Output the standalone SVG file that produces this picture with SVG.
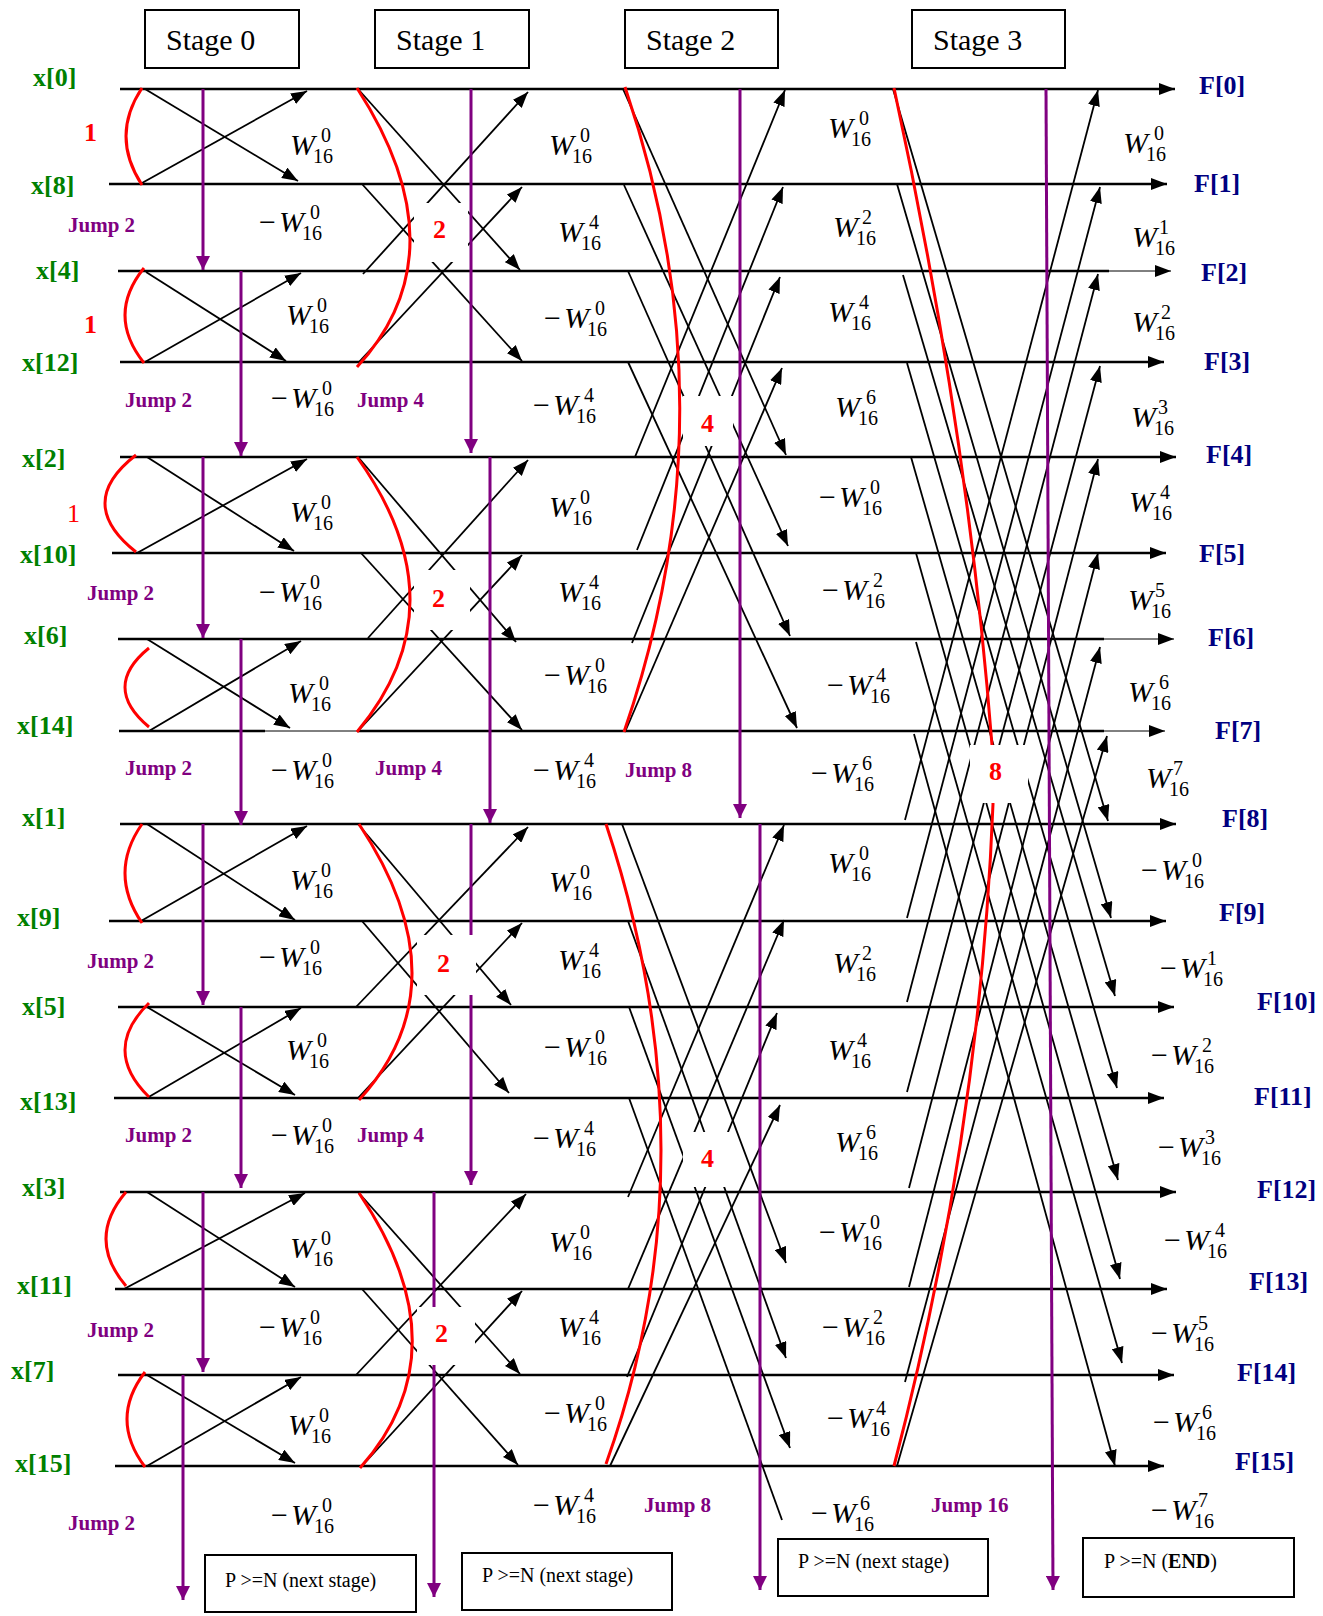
<svg xmlns="http://www.w3.org/2000/svg" width="1323" height="1616" viewBox="0 0 1323 1616">
<defs>
<marker id="ah" viewBox="0 0 16 12" refX="16" refY="6" markerWidth="16" markerHeight="12" markerUnits="userSpaceOnUse" orient="auto"><path d="M0,0 L16,6 L0,12 z" fill="#000"/></marker>
<marker id="ap" viewBox="0 0 14 14" refX="14" refY="7" markerWidth="14" markerHeight="14" markerUnits="userSpaceOnUse" orient="auto"><path d="M0,0 L14,7 L0,14 z" fill="#800080"/></marker>
<style>
.row{stroke:#000;stroke-width:2.5;fill:none}
.rowend{stroke:#000;stroke-width:2.5;fill:none;marker-end:url(#ah)}
.thin{stroke:#000;stroke-width:1;fill:none;marker-end:url(#ah)}
.thinn{stroke:#000;stroke-width:1;fill:none}
.bf{stroke:#000;stroke-width:1.8;fill:none;marker-end:url(#ah)}
.bn{stroke:#000;stroke-width:1.8;fill:none}
.red{stroke:#f00;stroke-width:3;fill:none}
.pur{stroke:#800080;stroke-width:3;fill:none;marker-end:url(#ap)}
.frame{fill:#fff;stroke:#000;stroke-width:2}
.mask{fill:#fff;stroke:none}
text{font-family:"Liberation Serif","Times New Roman",serif}
.xl{font-family:"Liberation Serif",serif;font-weight:bold;font-size:26px;fill:#008000}
.fl{font-family:"Liberation Serif",serif;font-weight:bold;font-size:26px;fill:#000080}
.jl{font-family:"Liberation Serif",serif;font-weight:bold;font-size:21px;fill:#800080}
.rl{font-family:"Liberation Serif",serif;font-weight:bold;font-size:26px;fill:#f00}
.rn{font-family:"Liberation Serif",serif;font-size:26px;fill:#f00}
.stg{font-family:"Liberation Serif",serif;font-size:30px;fill:#000}
.pn{font-family:"Liberation Serif",serif;font-size:20px;fill:#000}
.w text{font-family:"Liberation Serif",serif;font-style:italic;font-size:30px;fill:#000}
.n{font-style:normal;font-size:20px}
.u{font-style:normal}
</style>
</defs>
<rect width="1323" height="1616" fill="#fff"/>

<!-- stage headers -->
<g id="stage0"><rect class="frame" x="145" y="10" width="154" height="58"/><text class="stg" x="166" y="50">Stage 0</text></g>
<g id="stage1"><rect class="frame" x="375" y="10" width="154" height="58"/><text class="stg" x="396" y="50">Stage 1</text></g>
<g id="stage2"><rect class="frame" x="625" y="10" width="153" height="58"/><text class="stg" x="646" y="50">Stage 2</text></g>
<g id="stage3"><rect class="frame" x="912" y="10" width="153" height="58"/><text class="stg" x="933" y="50">Stage 3</text></g>

<!-- connectors -->
<g id="connectors">
 <!-- signal rows -->
 <g id="rows">
  <path class="rowend" d="M120 89 H1175"/>
  <path class="rowend" d="M109 184 H1167"/>
  <path class="row" d="M118 271 H1109"/><path class="thin" d="M1109 271 H1171"/>
  <path class="rowend" d="M120 362 H1164"/>
  <path class="rowend" d="M120 457 H1176"/>
  <path class="rowend" d="M112 553 H1166"/>
  <path class="row" d="M118 639 H1104"/><path class="thin" d="M1104 639 H1174"/>
  <path class="row" d="M119 731 H265"/><path class="thinn" d="M265 731 H357"/><path class="row" d="M357 731 H1104"/><path class="thin" d="M1104 731 H1165"/>
  <path class="rowend" d="M120 824 H1176"/>
  <path class="rowend" d="M109 921 H1166"/>
  <path class="rowend" d="M118 1007 H1174"/>
  <path class="rowend" d="M114 1098 H1164"/>
  <path class="rowend" d="M120 1192 H1176"/>
  <path class="rowend" d="M115 1289 H1167"/>
  <path class="rowend" d="M118 1375 H1174"/>
  <path class="rowend" d="M115 1466 H1164"/>
 </g>

 <!-- stage 0 butterflies -->
 <g id="bf0">
  <path class="bf" d="M145 89 L298 181"/><path class="bf" d="M142 183 L307 91"/>
  <path class="bf" d="M146 272 L286 361"/><path class="bf" d="M145 362 L301 273"/>
  <path class="bf" d="M147 457 L294 551"/><path class="bf" d="M137 553 L307 459"/>
  <path class="bf" d="M147 639 L290 728"/><path class="bf" d="M149 731 L301 641"/>
  <path class="bf" d="M147 824 L295 920"/><path class="bf" d="M141 921 L307 826"/>
  <path class="bf" d="M147 1007 L295 1095"/><path class="bf" d="M147 1098 L301 1008"/>
  <path class="bf" d="M147 1192 L295 1287"/><path class="bf" d="M124 1289 L305 1193"/>
  <path class="bf" d="M147 1375 L295 1463"/><path class="bf" d="M147 1466 L301 1377"/>
 </g>

 <!-- stage 1 butterflies -->
 <g id="bf1">
  <path class="bf" d="M358 89 L520 270"/><path class="bf" d="M363 274 L528 92"/>
  <path class="bf" d="M362 184 L522 361"/><path class="bf" d="M358 363 L522 187"/>
  <path class="bf" d="M358 457 L516 642"/><path class="bf" d="M368 638 L528 460"/>
  <path class="bf" d="M361 553 L522 730"/><path class="bf" d="M358 731 L522 555"/>
  <path class="bf" d="M358 824 L511 1005"/><path class="bf" d="M356 1007 L528 827"/>
  <path class="bf" d="M362 921 L509 1093"/><path class="bf" d="M358 1098 L522 923"/>
  <path class="bf" d="M358 1192 L520 1374"/><path class="bf" d="M356 1375 L526 1194"/>
  <path class="bf" d="M362 1289 L518 1465"/><path class="bf" d="M362 1466 L522 1291"/>
 </g>

 <!-- stage 2 butterflies -->
 <g id="bf2">
  <path class="bf" d="M623 89 L786 455"/><path class="bf" d="M624 185 L788 546"/>
  <path class="bf" d="M628 271 L790 636"/><path class="bf" d="M628 362 L797 728"/>
  <path class="bf" d="M635 457 L785 90"/><path class="bf" d="M637 550 L783 187"/>
  <path class="bf" d="M632 643 L780 277"/><path class="bf" d="M625 732 L782 368"/>
  <path class="bf" d="M622 824 L786 1263"/><path class="bf" d="M628 921 L786 1358"/>
  <path class="bf" d="M629 1007 L790 1448"/><path class="bn" d="M629 1098 L782 1520"/>
  <path class="bf" d="M628 1197 L784 825"/><path class="bf" d="M628 1289 L784 920"/>
  <path class="bf" d="M627 1377 L777 1013"/><path class="bf" d="M610 1466 L780 1105"/>
 </g>

 <!-- stage 3 butterflies -->
 <g id="bf3">
  <path class="bf" d="M893 89 L1108 821"/><path class="bf" d="M897 184 L1111 918"/>
  <path class="bf" d="M903 275 L1115 996"/><path class="bf" d="M907 363 L1117 1088"/>
  <path class="bf" d="M911 457 L1118 1180"/><path class="bf" d="M916 553 L1120 1279"/>
  <path class="bf" d="M916 642 L1122 1363"/><path class="bf" d="M914 734 L1115 1466"/>
  <path class="bf" d="M905 820 L1098 90"/><path class="bf" d="M907 918 L1100 187"/>
  <path class="bf" d="M907 1002 L1098 274"/><path class="bf" d="M907 1092 L1100 366"/>
  <path class="bf" d="M909 1188 L1098 459"/><path class="bf" d="M909 1287 L1098 553"/>
  <path class="bf" d="M905 1382 L1100 647"/><path class="bf" d="M897 1466 L1107 736"/>
 </g>

 <!-- group brackets -->
 <g id="brackets">
  <path class="red" d="M142 88 Q110 136 142 185"/>
  <path class="red" d="M144 268 Q106 315 144 363"/>
  <path class="red" d="M136 455 Q74 503 136 552"/>
  <path class="red" d="M149 648 Q101 687 149 727"/>
  <path class="red" d="M142 824 Q108 873 142 923"/>
  <path class="red" d="M149 1003 Q101 1050 149 1097"/>
  <path class="red" d="M126 1192 Q86 1239 126 1286"/>
  <path class="red" d="M145 1372 Q109 1419 145 1467"/>
  <path class="red" d="M357 88 Q463 252 357 367"/>
  <path class="red" d="M357 457 Q463 605 357 732"/>
  <path class="red" d="M359 824 Q465 984 359 1100"/>
  <path class="red" d="M359 1193 Q465 1350 360 1468"/>
  <path class="red" d="M625 87 Q735 410 624 732"/>
  <path class="red" d="M606 824 Q716 1156 606 1464"/>
  <path class="red" d="M894 88 Q967 424 992 745 L993 804 Q980 1135 894 1466"/>
 </g>

 <!-- pointer jumps -->
 <g id="jumps">
  <path class="pur" d="M203 89 V270"/>
  <path class="pur" d="M241 271 V456"/>
  <path class="pur" d="M203 457 V638"/>
  <path class="pur" d="M241 639 V825"/>
  <path class="pur" d="M203 824 V1005"/>
  <path class="pur" d="M241 1007 V1188"/>
  <path class="pur" d="M203 1192 V1372"/>
  <path class="pur" d="M183 1375 V1600"/>
  <path class="pur" d="M471 89 V453"/>
  <path class="pur" d="M490 457 V823"/>
  <path class="pur" d="M471 824 V1185"/>
  <path class="pur" d="M434 1192 V1597"/>
  <path class="pur" d="M740 89 V818"/>
  <path class="pur" d="M760 824 V1590"/>
  <path class="pur" d="M1046 89 L1053 1590"/>
 </g>
</g>

<!-- clear areas behind span labels -->
<g id="label-clear">
 <rect class="mask" x="414" y="203" width="54" height="59"/>
 <rect class="mask" x="414" y="570" width="56" height="60"/>
 <rect class="mask" x="417" y="935" width="59" height="60"/>
 <rect class="mask" x="417" y="1307" width="58" height="58"/>
 <rect class="mask" x="683" y="396" width="50" height="50"/>
 <rect class="mask" x="683" y="1132" width="50" height="55"/>
 <rect class="mask" x="970" y="745" width="58" height="58"/>
</g>

<!-- span labels -->
<g id="spans">
 <text class="rl" x="84" y="141">1</text>
 <text class="rl" x="84" y="333">1</text>
 <text class="rn" x="67" y="522">1</text>
 <text class="rl" x="433" y="238">2</text>
 <text class="rl" x="432" y="607">2</text>
 <text class="rl" x="437" y="972">2</text>
 <text class="rl" x="435" y="1342">2</text>
 <text class="rl" x="701" y="432">4</text>
 <text class="rl" x="701" y="1167">4</text>
 <text class="rl" x="989" y="780">8</text>
</g>

<!-- jump labels -->
<g id="jump-labels">
 <text class="jl" x="68" y="232">Jump 2</text>
 <text class="jl" x="125" y="407">Jump 2</text>
 <text class="jl" x="87" y="600">Jump 2</text>
 <text class="jl" x="125" y="775">Jump 2</text>
 <text class="jl" x="87" y="968">Jump 2</text>
 <text class="jl" x="125" y="1142">Jump 2</text>
 <text class="jl" x="87" y="1337">Jump 2</text>
 <text class="jl" x="68" y="1530">Jump 2</text>
 <text class="jl" x="357" y="407">Jump 4</text>
 <text class="jl" x="375" y="775">Jump 4</text>
 <text class="jl" x="357" y="1142">Jump 4</text>
 <text class="jl" x="625" y="777">Jump 8</text>
 <text class="jl" x="644" y="1512">Jump 8</text>
 <text class="jl" x="931" y="1512">Jump 16</text>
</g>

<!-- inputs -->
<g id="inputs">
 <text id="in0" class="xl" x="33" y="86">x[0]</text>
 <text id="in8" class="xl" x="31" y="194">x[8]</text>
 <text id="in4" class="xl" x="36" y="279">x[4]</text>
 <text id="in12" class="xl" x="22" y="371">x[12]</text>
 <text id="in2" class="xl" x="22" y="467">x[2]</text>
 <text id="in10" class="xl" x="20" y="563">x[10]</text>
 <text id="in6" class="xl" x="24" y="644">x[6]</text>
 <text id="in14" class="xl" x="17" y="734">x[14]</text>
 <text id="in1" class="xl" x="22" y="826">x[1]</text>
 <text id="in9" class="xl" x="17" y="926">x[9]</text>
 <text id="in5" class="xl" x="22" y="1015">x[5]</text>
 <text id="in13" class="xl" x="20" y="1110">x[13]</text>
 <text id="in3" class="xl" x="22" y="1196">x[3]</text>
 <text id="in11" class="xl" x="17" y="1294">x[11]</text>
 <text id="in7" class="xl" x="11" y="1379">x[7]</text>
 <text id="in15" class="xl" x="15" y="1472">x[15]</text>
</g>

<!-- outputs -->
<g id="outputs">
 <text id="out0" class="fl" x="1199" y="94">F[0]</text>
 <text id="out1" class="fl" x="1194" y="192">F[1]</text>
 <text id="out2" class="fl" x="1201" y="281">F[2]</text>
 <text id="out3" class="fl" x="1204" y="370">F[3]</text>
 <text id="out4" class="fl" x="1206" y="463">F[4]</text>
 <text id="out5" class="fl" x="1199" y="562">F[5]</text>
 <text id="out6" class="fl" x="1208" y="646">F[6]</text>
 <text id="out7" class="fl" x="1215" y="739">F[7]</text>
 <text id="out8" class="fl" x="1222" y="827">F[8]</text>
 <text id="out9" class="fl" x="1219" y="921">F[9]</text>
 <text id="out10" class="fl" x="1257" y="1010">F[10]</text>
 <text id="out11" class="fl" x="1254" y="1105">F[11]</text>
 <text id="out12" class="fl" x="1257" y="1198">F[12]</text>
 <text id="out13" class="fl" x="1249" y="1290">F[13]</text>
 <text id="out14" class="fl" x="1237" y="1381">F[14]</text>
 <text id="out15" class="fl" x="1235" y="1470">F[15]</text>
</g>

<!-- twiddle factors -->
<g id="twiddles" class="w">
 <!-- stage 0 -->
 <text x="290" y="155">W<tspan class="n" dx="-2" dy="8">16</tspan><tspan class="n" dx="-12" dy="-21">0</tspan></text>
 <text x="259" y="232"><tspan class="u">−</tspan><tspan dx="3">W</tspan><tspan class="n" dx="-2" dy="8">16</tspan><tspan class="n" dx="-12" dy="-21">0</tspan></text>
 <text x="286" y="325">W<tspan class="n" dx="-2" dy="8">16</tspan><tspan class="n" dx="-12" dy="-21">0</tspan></text>
 <text x="271" y="408"><tspan class="u">−</tspan><tspan dx="3">W</tspan><tspan class="n" dx="-2" dy="8">16</tspan><tspan class="n" dx="-12" dy="-21">0</tspan></text>
 <text x="290" y="522">W<tspan class="n" dx="-2" dy="8">16</tspan><tspan class="n" dx="-12" dy="-21">0</tspan></text>
 <text x="259" y="602"><tspan class="u">−</tspan><tspan dx="3">W</tspan><tspan class="n" dx="-2" dy="8">16</tspan><tspan class="n" dx="-12" dy="-21">0</tspan></text>
 <text x="288" y="703">W<tspan class="n" dx="-2" dy="8">16</tspan><tspan class="n" dx="-12" dy="-21">0</tspan></text>
 <text x="271" y="780"><tspan class="u">−</tspan><tspan dx="3">W</tspan><tspan class="n" dx="-2" dy="8">16</tspan><tspan class="n" dx="-12" dy="-21">0</tspan></text>
 <text x="290" y="890">W<tspan class="n" dx="-2" dy="8">16</tspan><tspan class="n" dx="-12" dy="-21">0</tspan></text>
 <text x="259" y="967"><tspan class="u">−</tspan><tspan dx="3">W</tspan><tspan class="n" dx="-2" dy="8">16</tspan><tspan class="n" dx="-12" dy="-21">0</tspan></text>
 <text x="286" y="1060">W<tspan class="n" dx="-2" dy="8">16</tspan><tspan class="n" dx="-12" dy="-21">0</tspan></text>
 <text x="271" y="1145"><tspan class="u">−</tspan><tspan dx="3">W</tspan><tspan class="n" dx="-2" dy="8">16</tspan><tspan class="n" dx="-12" dy="-21">0</tspan></text>
 <text x="290" y="1258">W<tspan class="n" dx="-2" dy="8">16</tspan><tspan class="n" dx="-12" dy="-21">0</tspan></text>
 <text x="259" y="1337"><tspan class="u">−</tspan><tspan dx="3">W</tspan><tspan class="n" dx="-2" dy="8">16</tspan><tspan class="n" dx="-12" dy="-21">0</tspan></text>
 <text x="288" y="1435">W<tspan class="n" dx="-2" dy="8">16</tspan><tspan class="n" dx="-12" dy="-21">0</tspan></text>
 <text x="271" y="1525"><tspan class="u">−</tspan><tspan dx="3">W</tspan><tspan class="n" dx="-2" dy="8">16</tspan><tspan class="n" dx="-12" dy="-21">0</tspan></text>
 <!-- stage 1 -->
 <text x="549" y="155">W<tspan class="n" dx="-2" dy="8">16</tspan><tspan class="n" dx="-12" dy="-21">0</tspan></text>
 <text x="558" y="242">W<tspan class="n" dx="-2" dy="8">16</tspan><tspan class="n" dx="-12" dy="-21">4</tspan></text>
 <text x="544" y="328"><tspan class="u">−</tspan><tspan dx="3">W</tspan><tspan class="n" dx="-2" dy="8">16</tspan><tspan class="n" dx="-12" dy="-21">0</tspan></text>
 <text x="533" y="415"><tspan class="u">−</tspan><tspan dx="3">W</tspan><tspan class="n" dx="-2" dy="8">16</tspan><tspan class="n" dx="-12" dy="-21">4</tspan></text>
 <text x="549" y="517">W<tspan class="n" dx="-2" dy="8">16</tspan><tspan class="n" dx="-12" dy="-21">0</tspan></text>
 <text x="558" y="602">W<tspan class="n" dx="-2" dy="8">16</tspan><tspan class="n" dx="-12" dy="-21">4</tspan></text>
 <text x="544" y="685"><tspan class="u">−</tspan><tspan dx="3">W</tspan><tspan class="n" dx="-2" dy="8">16</tspan><tspan class="n" dx="-12" dy="-21">0</tspan></text>
 <text x="533" y="780"><tspan class="u">−</tspan><tspan dx="3">W</tspan><tspan class="n" dx="-2" dy="8">16</tspan><tspan class="n" dx="-12" dy="-21">4</tspan></text>
 <text x="549" y="892">W<tspan class="n" dx="-2" dy="8">16</tspan><tspan class="n" dx="-12" dy="-21">0</tspan></text>
 <text x="558" y="970">W<tspan class="n" dx="-2" dy="8">16</tspan><tspan class="n" dx="-12" dy="-21">4</tspan></text>
 <text x="544" y="1057"><tspan class="u">−</tspan><tspan dx="3">W</tspan><tspan class="n" dx="-2" dy="8">16</tspan><tspan class="n" dx="-12" dy="-21">0</tspan></text>
 <text x="533" y="1148"><tspan class="u">−</tspan><tspan dx="3">W</tspan><tspan class="n" dx="-2" dy="8">16</tspan><tspan class="n" dx="-12" dy="-21">4</tspan></text>
 <text x="549" y="1252">W<tspan class="n" dx="-2" dy="8">16</tspan><tspan class="n" dx="-12" dy="-21">0</tspan></text>
 <text x="558" y="1337">W<tspan class="n" dx="-2" dy="8">16</tspan><tspan class="n" dx="-12" dy="-21">4</tspan></text>
 <text x="544" y="1423"><tspan class="u">−</tspan><tspan dx="3">W</tspan><tspan class="n" dx="-2" dy="8">16</tspan><tspan class="n" dx="-12" dy="-21">0</tspan></text>
 <text x="533" y="1515"><tspan class="u">−</tspan><tspan dx="3">W</tspan><tspan class="n" dx="-2" dy="8">16</tspan><tspan class="n" dx="-12" dy="-21">4</tspan></text>
 <!-- stage 2 -->
 <text x="828" y="138">W<tspan class="n" dx="-2" dy="8">16</tspan><tspan class="n" dx="-12" dy="-21">0</tspan></text>
 <text x="833" y="237">W<tspan class="n" dx="-2" dy="8">16</tspan><tspan class="n" dx="-14" dy="-21">2</tspan></text>
 <text x="828" y="322">W<tspan class="n" dx="-2" dy="8">16</tspan><tspan class="n" dx="-12" dy="-21">4</tspan></text>
 <text x="835" y="417">W<tspan class="n" dx="-2" dy="8">16</tspan><tspan class="n" dx="-12" dy="-21">6</tspan></text>
 <text x="819" y="507"><tspan class="u">−</tspan><tspan dx="3">W</tspan><tspan class="n" dx="-2" dy="8">16</tspan><tspan class="n" dx="-12" dy="-21">0</tspan></text>
 <text x="822" y="600"><tspan class="u">−</tspan><tspan dx="3">W</tspan><tspan class="n" dx="-2" dy="8">16</tspan><tspan class="n" dx="-12" dy="-21">2</tspan></text>
 <text x="827" y="695"><tspan class="u">−</tspan><tspan dx="3">W</tspan><tspan class="n" dx="-2" dy="8">16</tspan><tspan class="n" dx="-14" dy="-21">4</tspan></text>
 <text x="811" y="783"><tspan class="u">−</tspan><tspan dx="3">W</tspan><tspan class="n" dx="-2" dy="8">16</tspan><tspan class="n" dx="-12" dy="-21">6</tspan></text>
 <text x="828" y="873">W<tspan class="n" dx="-2" dy="8">16</tspan><tspan class="n" dx="-12" dy="-21">0</tspan></text>
 <text x="833" y="973">W<tspan class="n" dx="-2" dy="8">16</tspan><tspan class="n" dx="-14" dy="-21">2</tspan></text>
 <text x="828" y="1060">W<tspan class="n" dx="-2" dy="8">16</tspan><tspan class="n" dx="-14" dy="-21">4</tspan></text>
 <text x="835" y="1152">W<tspan class="n" dx="-2" dy="8">16</tspan><tspan class="n" dx="-12" dy="-21">6</tspan></text>
 <text x="819" y="1242"><tspan class="u">−</tspan><tspan dx="3">W</tspan><tspan class="n" dx="-2" dy="8">16</tspan><tspan class="n" dx="-12" dy="-21">0</tspan></text>
 <text x="822" y="1337"><tspan class="u">−</tspan><tspan dx="3">W</tspan><tspan class="n" dx="-2" dy="8">16</tspan><tspan class="n" dx="-12" dy="-21">2</tspan></text>
 <text x="827" y="1428"><tspan class="u">−</tspan><tspan dx="3">W</tspan><tspan class="n" dx="-2" dy="8">16</tspan><tspan class="n" dx="-14" dy="-21">4</tspan></text>
 <text x="811" y="1523"><tspan class="u">−</tspan><tspan dx="3">W</tspan><tspan class="n" dx="-2" dy="8">16</tspan><tspan class="n" dx="-14" dy="-21">6</tspan></text>
 <!-- stage 3 -->
 <text x="1123" y="153">W<tspan class="n" dx="-2" dy="8">16</tspan><tspan class="n" dx="-12" dy="-21">0</tspan></text>
 <text x="1132" y="247">W<tspan class="n" dx="-2" dy="8">16</tspan><tspan class="n" dx="-16" dy="-21">1</tspan></text>
 <text x="1132" y="332">W<tspan class="n" dx="-2" dy="8">16</tspan><tspan class="n" dx="-14" dy="-21">2</tspan></text>
 <text x="1131" y="427">W<tspan class="n" dx="-2" dy="8">16</tspan><tspan class="n" dx="-16" dy="-21">3</tspan></text>
 <text x="1129" y="512">W<tspan class="n" dx="-2" dy="8">16</tspan><tspan class="n" dx="-12" dy="-21">4</tspan></text>
 <text x="1128" y="610">W<tspan class="n" dx="-2" dy="8">16</tspan><tspan class="n" dx="-16" dy="-21">5</tspan></text>
 <text x="1128" y="702">W<tspan class="n" dx="-2" dy="8">16</tspan><tspan class="n" dx="-12" dy="-21">6</tspan></text>
 <text x="1146" y="788">W<tspan class="n" dx="-2" dy="8">16</tspan><tspan class="n" dx="-16" dy="-21">7</tspan></text>
 <text x="1141" y="880"><tspan class="u">−</tspan><tspan dx="3">W</tspan><tspan class="n" dx="-2" dy="8">16</tspan><tspan class="n" dx="-12" dy="-21">0</tspan></text>
 <text x="1160" y="978"><tspan class="u">−</tspan><tspan dx="3">W</tspan><tspan class="n" dx="-2" dy="8">16</tspan><tspan class="n" dx="-16" dy="-21">1</tspan></text>
 <text x="1151" y="1065"><tspan class="u">−</tspan><tspan dx="3">W</tspan><tspan class="n" dx="-2" dy="8">16</tspan><tspan class="n" dx="-12" dy="-21">2</tspan></text>
 <text x="1158" y="1157"><tspan class="u">−</tspan><tspan dx="3">W</tspan><tspan class="n" dx="-2" dy="8">16</tspan><tspan class="n" dx="-16" dy="-21">3</tspan></text>
 <text x="1164" y="1250"><tspan class="u">−</tspan><tspan dx="3">W</tspan><tspan class="n" dx="-2" dy="8">16</tspan><tspan class="n" dx="-12" dy="-21">4</tspan></text>
 <text x="1151" y="1343"><tspan class="u">−</tspan><tspan dx="3">W</tspan><tspan class="n" dx="-2" dy="8">16</tspan><tspan class="n" dx="-16" dy="-21">5</tspan></text>
 <text x="1153" y="1432"><tspan class="u">−</tspan><tspan dx="3">W</tspan><tspan class="n" dx="-2" dy="8">16</tspan><tspan class="n" dx="-14" dy="-21">6</tspan></text>
 <text x="1151" y="1520"><tspan class="u">−</tspan><tspan dx="3">W</tspan><tspan class="n" dx="-2" dy="8">16</tspan><tspan class="n" dx="-16" dy="-21">7</tspan></text>
</g>

<!-- stage end conditions -->
<g id="end0"><rect class="frame" x="205" y="1555" width="211" height="57"/><text class="pn" x="225" y="1587">P &gt;=N (next stage)</text></g>
<g id="end1"><rect class="frame" x="462" y="1553" width="210" height="57"/><text class="pn" x="482" y="1582">P &gt;=N (next stage)</text></g>
<g id="end2"><rect class="frame" x="778" y="1539" width="210" height="57"/><text class="pn" x="798" y="1568">P &gt;=N (next stage)</text></g>
<g id="end3"><rect class="frame" x="1083" y="1538" width="211" height="59"/><text class="pn" x="1104" y="1568">P &gt;=N (<tspan font-weight="bold">END</tspan>)</text></g>
</svg>
